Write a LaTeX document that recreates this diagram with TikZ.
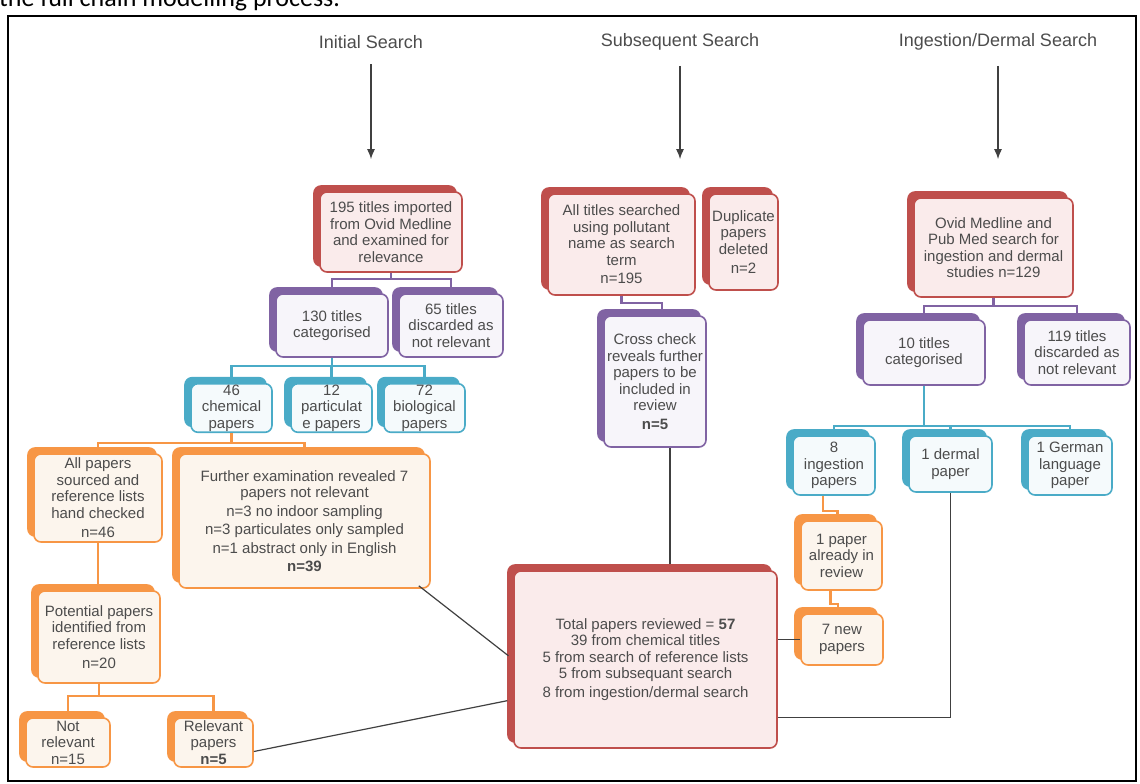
\documentclass[tikz,border=0pt]{standalone}
\usepackage{fontspec}
\setmainfont{Liberation Sans}
\newfontfamily\captfont{Carlito}
\usetikzlibrary{arrows,arrows.meta,calc,shadows}
\definecolor{RedClr}{rgb}{0.75,0.31,0.30}
\definecolor{RedFill}{rgb}{0.98,0.92,0.92}
\definecolor{PurpleClr}{rgb}{0.50,0.39,0.64}
\definecolor{PurpleFill}{rgb}{0.97,0.96,0.98}
\definecolor{TealClr}{rgb}{0.29,0.67,0.78}
\definecolor{TealFill}{rgb}{0.96,0.98,0.99}
\definecolor{OrangeClr}{rgb}{0.97,0.59,0.27}
\definecolor{OrangeFill}{rgb}{0.99,0.96,0.93}
\definecolor{TextClr}{rgb}{0.30,0.30,0.30}
\definecolor{LineClr}{rgb}{0.25,0.25,0.25}

\begin{document}
\begin{tikzpicture}[x=1pt,y=-1pt,
  box/.style={rounded corners=7pt,line width=1.6pt,align=center,inner sep=1pt,
    text=TextClr,font=\fontsize{15}{16.5}\selectfont},
  redbox/.style={box,draw=RedClr,fill=RedFill,
    copy shadow={shadow xshift=-6pt,shadow yshift=6pt,fill=RedClr,draw=RedClr}},
  purplebox/.style={box,draw=PurpleClr,fill=PurpleFill,
    copy shadow={shadow xshift=-6pt,shadow yshift=6pt,fill=PurpleClr,draw=PurpleClr}},
  tealbox/.style={box,draw=TealClr,fill=TealFill,
    copy shadow={shadow xshift=-6pt,shadow yshift=6pt,fill=TealClr,draw=TealClr}},
  orangebox/.style={box,draw=OrangeClr,fill=OrangeFill,
    copy shadow={shadow xshift=-6pt,shadow yshift=6pt,fill=OrangeClr,draw=OrangeClr}},
  head/.style={text=TextClr,font=\fontsize{18}{20}\selectfont},
  arr/.style={-{Latex[length=10pt,width=8pt]},line width=1.4pt,LineClr},
  link/.style={line width=1.2pt,LineClr},
  stem/.style={line width=2.2pt,shorten >=6pt}]
\useasboundingbox (0,0) rectangle (1140,784);

\begin{scope}
\clip (0,0) rectangle (1140,13);
\node[anchor=base west,inner sep=0pt,font=\captfont\fontsize{26}{28}\selectfont] (capt) at (-1,7) {the full chain modelling process.};
\end{scope}
\draw[line width=2pt] (8,16) rectangle (1136,781);

\node[head] (hinit) at (371,42) {Initial Search};
\node[head] (hsub) at (680,42) {Subsequent Search};
\node[head] (hing) at (998,42) {Ingestion/Dermal Search};

% initial search
\node[redbox,minimum width=142pt,minimum height=80pt] (imp) at (391,232) {195 titles imported\\from Ovid Medline\\and examined for\\relevance};
\node[purplebox,minimum width=112pt,minimum height=63pt] (cat130) at (332,325.5) {130 titles\\categorised};
\node[purplebox,minimum width=104pt,minimum height=63pt] (disc65) at (451,325.5) {65 titles\\discarded as\\not relevant};
\node[tealbox,minimum width=81pt,minimum height=48pt] (chem) at (231.5,408) {46\\chemical\\papers};
\node[tealbox,minimum width=81pt,minimum height=48pt] (part) at (331.5,408) {12\\particulat\\e papers};
\node[tealbox,minimum width=81pt,minimum height=48pt] (bio) at (424.5,408) {72\\biological\\papers};
\node[orangebox,minimum width=128pt,minimum height=88pt] (allp) at (98,498) {All papers\\sourced and\\reference lists\\hand checked\\[3pt]n=46};
\node[orangebox,minimum width=251pt,minimum height=134pt] (furth) at (304.5,521) {Further examination revealed 7\\papers not relevant\\[2pt]n=3 no indoor sampling\\[2pt]n=3 particulates only sampled\\[2pt]n=1 abstract only in English\\[2pt]\textbf{n=39}};
\node[orangebox,minimum width=122pt,minimum height=92pt] (pot) at (99,637) {Potential papers\\identified from\\reference lists\\[3pt]n=20};
\node[orangebox,minimum width=84pt,minimum height=49pt] (notrel) at (68,742.5) {Not\\relevant\\n=15};
\node[orangebox,minimum width=79pt,minimum height=49pt] (relp) at (213.5,742.5) {Relevant\\papers\\\textbf{n=5}};

% subsequent search
\node[redbox,minimum width=147pt,minimum height=101pt] (allt) at (621.5,244.5) {All titles searched\\using pollutant\\name as search\\term\\[2pt]n=195};
\node[redbox,minimum width=69pt,minimum height=96pt] (dup) at (743.5,242) {Duplicate\\papers\\deleted\\[3pt]n=2};
\node[purplebox,minimum width=102pt,minimum height=131pt] (cross) at (655,381.5) {Cross check\\reveals further\\papers to be\\included in\\review\\[2pt]\textbf{n=5}};
\node[redbox,minimum width=263pt,minimum height=177pt] (total) at (645.5,659.5) {Total papers reviewed = \textbf{57}\\39 from chemical titles\\5 from search of reference lists\\5 from subsequant search\\[2pt]8 from ingestion/dermal search};

% ingestion/dermal search
\node[redbox,minimum width=159pt,minimum height=99pt] (ovid) at (993.5,247.5) {Ovid Medline and\\Pub Med search for\\ingestion and dermal\\studies n=129};
\node[purplebox,minimum width=122pt,minimum height=65pt] (ten) at (924,352.5) {10 titles\\categorised};
\node[purplebox,minimum width=106pt,minimum height=65pt] (d119) at (1077,352.5) {119 titles\\discarded as\\not relevant};
\node[tealbox,minimum width=82pt,minimum height=59pt] (ing8) at (834,465.5) {8\\ingestion\\papers};
\node[tealbox,minimum width=83pt,minimum height=56pt] (derm) at (950.5,464) {1 dermal\\paper};
\node[tealbox,minimum width=84pt,minimum height=59pt] (germ) at (1070,465.5) {1 German\\language\\paper};
\node[orangebox,minimum width=81pt,minimum height=69pt] (pap1) at (841.5,555.5) {1 paper\\already in\\review};
\node[orangebox,minimum width=82pt,minimum height=51pt] (new7) at (842,639.5) {7 new\\papers};

% arrows from the headings
\draw[arr,shorten <=12pt,shorten >=32pt] (hinit.south) -- (hinit.south |- imp.north);
\draw[arr,shorten <=12pt,shorten >=34pt] (hsub.south) -- (hsub.south |- allt.north);
\draw[arr,shorten <=12pt,shorten >=38pt] (hing.south) -- (hing.south |- ovid.north);

% tree lines
\draw[stem,PurpleClr] (imp.south) -- ++(0,6) coordinate (b1) -| (cat130.north);
\draw[stem,PurpleClr] (b1) -| (disc65.north);
\draw[stem,TealClr] (cat130.south) -- ++(0,8) coordinate (b2) -| (chem.north);
\draw[stem,TealClr] (b2) -| (part.north);
\draw[stem,TealClr] (b2) -| (bio.north);
\draw[stem,OrangeClr] (chem.south) -- ++(0,10) coordinate (b3) -| (allp.north);
\draw[stem,OrangeClr] (b3) -| (furth.north);
\draw[stem,OrangeClr] (allp.south) -- (allp.south |- pot.north);
\draw[stem,OrangeClr] (pot.south) -- ++(0,12) coordinate (b4) -| (notrel.north);
\draw[stem,OrangeClr] (b4) -| (relp.north);

\draw[stem,PurpleClr] (allt.south) -- ++(0,7) -| ($(cross.north)+(7,0)$);

\draw[stem,PurpleClr] (ovid.south) -- ++(0,8) coordinate (b5) -| (ten.north);
\draw[stem,PurpleClr] (b5) -| (d119.north);
\draw[stem,TealClr] (ten.south) -- ++(0,40) coordinate (b6) -| (ing8.north);
\draw[stem,TealClr] (b6) -| (derm.north);
\draw[stem,TealClr] (b6) -| (germ.north);
\draw[stem,OrangeClr] ($(ing8.south)+(-11,0)$) |- ($(pap1.north)+(-4,-9)$) -- ($(pap1.north)+(-4,0)$);
\draw[stem,OrangeClr] ($(pap1.south)+(-11,0)$) |- ($(new7.north)+(-4,-9)$) -- ($(new7.north)+(-4,0)$);

% into the total
\draw[link,shorten >=6pt] ($(cross.south)+(15,0)$) -- ($(cross.south |- total.north)+(15,0)$);
\draw[link,shorten >=6pt] ($(furth.south east)+(-12,-3)$) -- (total.west);
\draw[link,shorten >=6pt] ($(relp.east)+(0,9)$) -- ($(total.west)+(0,40)$);
\draw[link] (new7.west) -- (new7.west -| total.east);
\draw[link] (derm.south) |- ($(total.east)+(0,58)$);

\end{tikzpicture}
\end{document}
